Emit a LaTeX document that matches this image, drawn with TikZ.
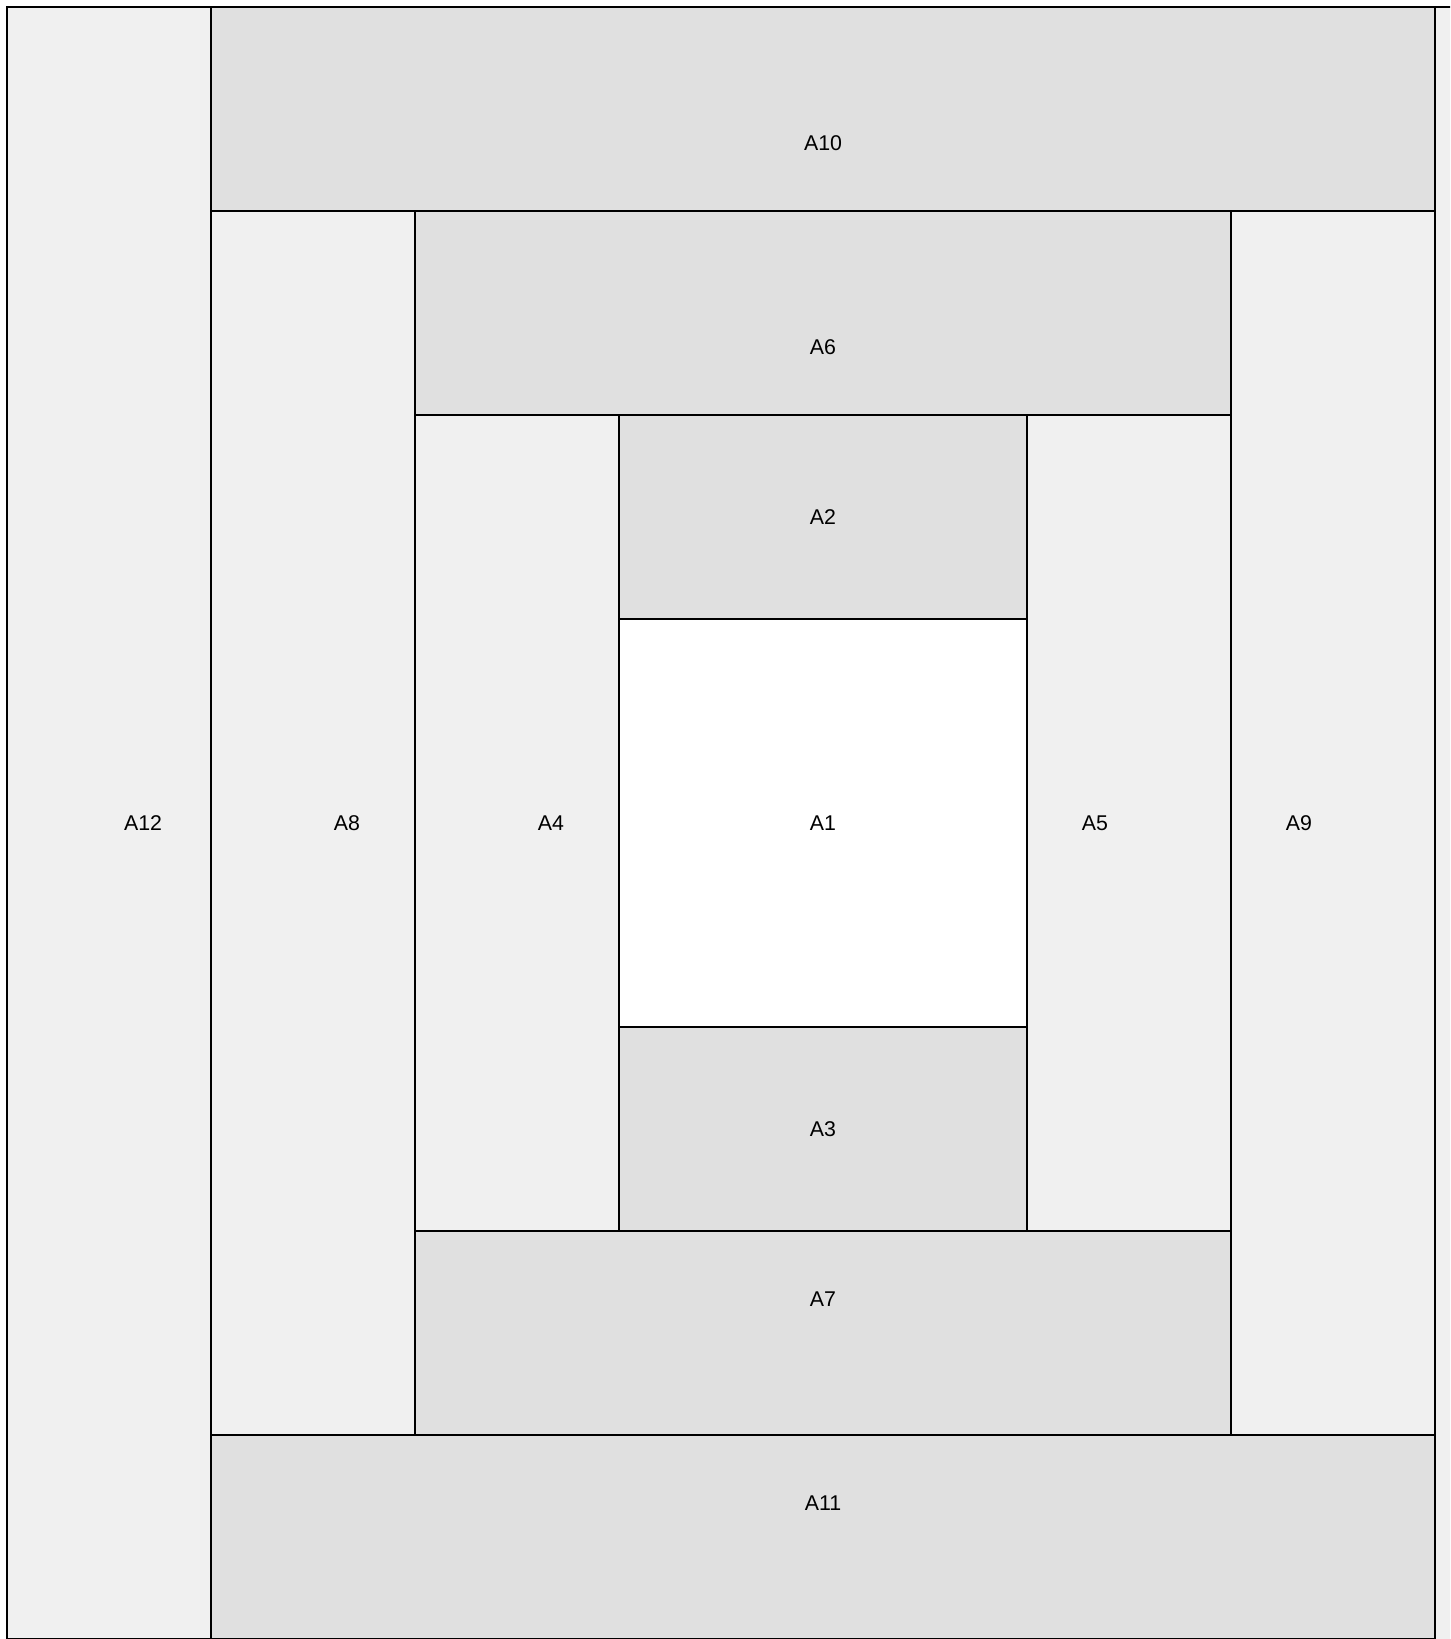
\documentclass[tikz,border=0pt]{standalone}
\usepackage{fontspec}
\setmainfont{Liberation Sans}
\definecolor{darkfill}{HTML}{E0E0E0}
\definecolor{lightfill}{HTML}{F0F0F0}
\begin{document}
\begin{tikzpicture}[x=0.75pt,y=-0.75pt,
  patch/.style={draw=black,line width=1.6pt},
  dark/.style={patch,fill=darkfill},
  light/.style={patch,fill=lightfill},
  centre/.style={patch,fill=white},
  lbl/.style={inner sep=0pt,font=\fontsize{16}{19}\selectfont}]
\useasboundingbox (0,0) rectangle (1450,1639);
\clip (0,0) rectangle (1450,1639);
\fill[white] (0,0) rectangle (1450,1639);
% A13 (partly visible)
\path[light] (1435,7) rectangle (1700,1700);
\path[light] (7,7) rectangle (211,1639);    % A12
\path[dark] (211,7) rectangle (1435,211);   % A10
\path[dark] (211,1435) rectangle (1435,1639); % A11
\path[light] (211,211) rectangle (415,1435); % A8
\path[light] (1231,211) rectangle (1435,1435); % A9
\path[dark] (415,211) rectangle (1231,415); % A6
\path[dark] (415,1231) rectangle (1231,1435); % A7
\path[light] (415,415) rectangle (619,1231); % A4
\path[light] (1027,415) rectangle (1231,1231); % A5
\path[dark] (619,415) rectangle (1027,619); % A2
\path[dark] (619,1027) rectangle (1027,1231); % A3
\path[centre] (619,619) rectangle (1027,1027); % A1
\node[lbl] (a1) at (823,823) {A1};
\node[lbl] (a2) at (823,517) {A2};
\node[lbl] (a3) at (823,1129) {A3};
\node[lbl] (a4) at (551,823) {A4};
\node[lbl] (a5) at (1095,823) {A5};
\node[lbl] (a6) at (823,347) {A6};
\node[lbl] (a7) at (823,1299) {A7};
\node[lbl] (a8) at (347,823) {A8};
\node[lbl] (a9) at (1299,823) {A9};
\node[lbl] (a10) at (823,143) {A10};
\node[lbl] (a11) at (823,1503) {A11};
\node[lbl] (a12) at (143,823) {A12};
\end{tikzpicture}
\end{document}
